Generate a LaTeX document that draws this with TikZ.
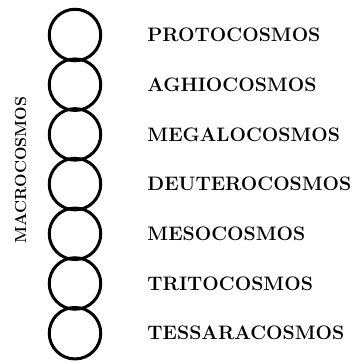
\documentclass[tikz,border=0pt]{standalone}
\usetikzlibrary{positioning}
\begin{document}
\begin{tikzpicture}[x=1pt,y=-1pt,
    ring/.style={draw,circle,line width=3pt,minimum size=51.5pt,inner sep=0pt},
    cosmos/.style={anchor=west,inner sep=0pt,font=\bfseries\fontsize{19.5}{22}\selectfont}]
    \useasboundingbox (0,0) rectangle (354,364);
    \foreach \name [count=\i] in {PROTOCOSMOS,AGHIOCOSMOS,MEGALOCOSMOS,DEUTEROCOSMOS,MESOCOSMOS,TRITOCOSMOS,TESSARACOSMOS}{
        \node[ring] (c\i) at (75,{35+49.7*(\i-1)}) {};
        \node[cosmos,right=45pt of c\i] (t\i) {\name};
    }
    \node[rotate=90,inner sep=0pt,font=\bfseries\fontsize{16}{18}\selectfont] (macro) at (20.5,170) {MACROCOSMOS};
\end{tikzpicture}
\end{document}
